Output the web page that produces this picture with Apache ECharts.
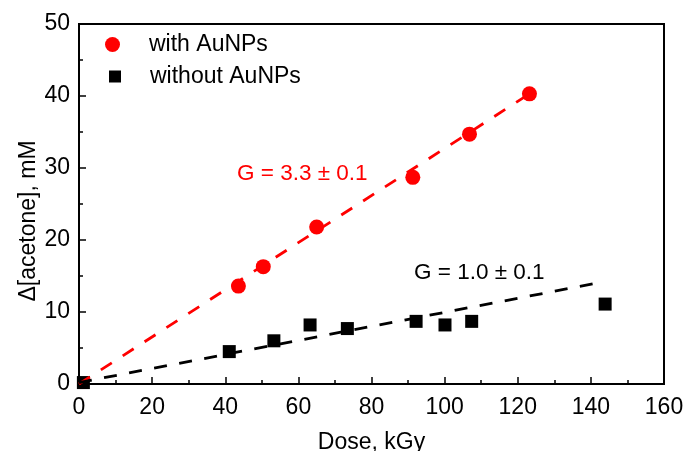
<!DOCTYPE html>
<html><head><meta charset="utf-8">
<script src="https://cdn.jsdelivr.net/npm/echarts@6/dist/echarts.min.js"></script>
<style>html,body{margin:0;padding:0;background:#fff}#c{width:685px;height:451px}</style>
</head><body><div id="c"></div>
<script>
const withDose = [43.6, 50.4, 65.0, 91.3, 106.8, 123.2];
const withAcetone = [13.6, 16.3, 21.8, 28.7, 34.7, 40.3];
const withoutDose = [1.2, 41.1, 53.3, 63.2, 73.4, 92.2, 100.1, 107.4, 143.9];
const withoutAcetone = [0.2, 4.5, 6.0, 8.2, 7.7, 8.7, 8.2, 8.7, 11.1];
const withFitDose = [0, 123.5];
const withFitAcetone = [0, 40.4];
const withoutFitDose = [0, 143.5];
const withoutFitAcetone = [0.2, 14.2];
const seriesNames = ['with AuNPs', 'without AuNPs'];
const fitLabels = ['G = 3.3 ± 0.1', 'G = 1.0 ± 0.1'];
const xName = 'Dose, kGy';
const yName = 'Δ[acetone], mM';

const FONT = "'Liberation Sans', Arial, sans-serif";
const zip = (a, b) => a.map((v, i) => [v, b[i]]);

const chart = echarts.init(document.getElementById('c'), null, {renderer: 'canvas'});
const axisCommon = {
  axisLine: {show: true, onZero: false, lineStyle: {color: '#000', width: 2}},
  axisTick: {show: true, inside: true, length: 7, lineStyle: {color: '#000', width: 1.5}},
  minorTick: {show: true, splitNumber: 2, length: 4, lineStyle: {color: '#000', width: 1.5}},
  splitLine: {show: false},
  axisLabel: {color: '#000', fontSize: 23, fontFamily: FONT},
  nameTextStyle: {color: '#000', fontSize: 23, fontFamily: FONT},
  nameMoveOverlap: false
};
chart.setOption({
  animation: false,
  backgroundColor: '#fff',
  grid: {left: 79, right: 21, top: 24, bottom: 67, show: true, borderColor: '#000', borderWidth: 2, outerBoundsMode: 'none'},
  xAxis: Object.assign({}, axisCommon, {
    type: 'value', min: 0, max: 160, interval: 20,
    name: xName, nameLocation: 'middle', nameGap: 47,
    axisLabel: Object.assign({}, axisCommon.axisLabel, {margin: 12})
  }),
  yAxis: Object.assign({}, axisCommon, {
    type: 'value', min: 0, max: 50, interval: 10,
    name: yName, nameLocation: 'middle', nameGap: 39,
    nameTextStyle: Object.assign({}, axisCommon.nameTextStyle, {padding: [0, 34, 0, 0]}),
    axisLabel: Object.assign({}, axisCommon.axisLabel, {margin: 9})
  }),
  legend: [
    {data: [seriesNames[0]], left: 100, top: 28, orient: 'vertical', itemWidth: 15, itemHeight: 15, icon: 'circle',
     textStyle: {color: '#000', fontSize: 23, fontFamily: FONT, padding: [0, 0, 0, 24]}},
    {data: [seriesNames[1]], left: 104, top: 60, orient: 'vertical', itemWidth: 12, itemHeight: 12, icon: 'rect',
     textStyle: {color: '#000', fontSize: 23, fontFamily: FONT, padding: [0, 0, 0, 24]}}
  ],
  graphic: [
    {type: 'text', left: 237, top: 162, style: {text: fitLabels[0], fill: '#ff0000', font: "22.5px 'Liberation Sans', Arial"}},
    {type: 'text', left: 414, top: 261, style: {text: fitLabels[1], fill: '#000', font: "22.5px 'Liberation Sans', Arial"}}
  ],
  series: [
    {type: 'line', name: 'fit1', data: zip(withFitDose, withFitAcetone), symbol: 'none', silent: true,
     lineStyle: {color: '#ff0000', width: 2.8, type: [13, 13]}},
    {type: 'line', name: 'fit2', data: zip(withoutFitDose, withoutFitAcetone), symbol: 'none', silent: true,
     lineStyle: {color: '#000', width: 2.8, type: [13, 12.5]}},
    {type: 'scatter', name: seriesNames[0], data: zip(withDose, withAcetone), symbol: 'circle', symbolSize: 15,
     itemStyle: {color: '#ff0000', opacity: 1}},
    {type: 'scatter', name: seriesNames[1], data: zip(withoutDose, withoutAcetone), symbol: 'rect', symbolSize: 13,
     itemStyle: {color: '#000', opacity: 1}}
  ]
});
</script></body></html>
